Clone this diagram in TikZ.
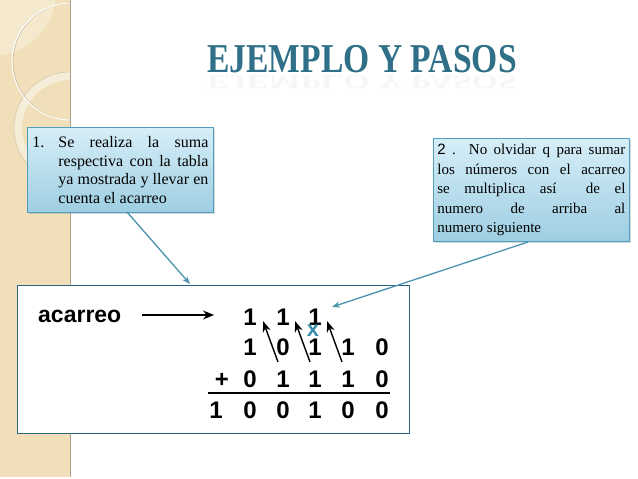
\documentclass[tikz,border=0pt]{standalone}
\usepackage{fontspec}
\setmainfont{Liberation Serif}
\setsansfont{Liberation Sans}
\usetikzlibrary{arrows.meta, positioning, shadows}
\definecolor{stripbeige}{RGB}{240, 223, 184}
\definecolor{stripedge}{RGB}{170, 160, 138}
\definecolor{titleteal}{RGB}{47, 111, 135}
\definecolor{calloutlight}{RGB}{214, 238, 248}
\definecolor{calloutdark}{RGB}{158, 206, 226}
\definecolor{calloutborder}{RGB}{79, 158, 187}
\definecolor{boxteal}{RGB}{40, 100, 125}
\definecolor{pointerteal}{RGB}{74, 147, 173}
\definecolor{crossteal}{RGB}{58, 140, 172}

\begin{document}
\begin{tikzpicture}[
    x=1pt, y=-1pt,
    callout/.style={
        draw=calloutborder, 
        thick, 
        top color=calloutlight, 
        bottom color=calloutdark, 
        anchor=north west, 
        align=justify, 
        drop shadow={opacity=0.3, shadow xshift=2pt, shadow yshift=-2pt}
    },
    digit/.style={
        font=\sffamily\bfseries\fontsize{24}{24}\selectfont, 
        inner sep=0pt, 
        anchor=base
    },
    pointer/.style={-{Stealth[length=8pt, width=6pt]}, line width=1.3pt, color=pointerteal},
    carry/.style={-{Stealth[length=11pt, width=8pt]}, line width=1.4pt, color=black}
]
    \useasboundingbox (0,0) rectangle (638,479);

    % Side strip
    \fill[stripbeige] (0,0) rectangle (70,477);
    \begin{scope}
        \clip (0,0) rectangle (70,477);
        \fill[white, opacity=0.3] (-8,-8) circle (64);
        \draw[white, opacity=0.45, line width=8pt] (70,128) circle (52);
        \draw[stripedge, opacity=0.4, line width=0.6pt] (70,128) circle (56);
        \draw[stripedge, opacity=0.6, line width=0.8pt] (71.5,61.5) circle (58.5);
        \draw[white, line width=1pt] (70.5,61.5) circle (58.5);
    \end{scope}
    \draw[stripedge, line width=1.5pt] (70.5,0) -- (70.5,477);

    % Title
    \node[anchor=base, text=titleteal, font=\bfseries\fontsize{41}{41}\selectfont] (title) at (362,72) {\scalebox{0.82}[1]{EJEMPLO Y PASOS}};
    \node[anchor=base, text=gray, text opacity=0.07, font=\bfseries\fontsize{41}{41}\selectfont] (mirror) at (362,75) {\scalebox{0.82}[-0.5]{EJEMPLO Y PASOS}};

    % Nodes
    \node[callout, font=\fontsize{16}{18.5}\selectfont, text width=176pt, inner xsep=5pt, minimum height=85pt] (callone) at (27,127)
        {\leftskip=26pt\noindent\hspace*{-26pt}\makebox[26pt][l]{1.}Se realiza la suma\linebreak respectiva con la tabla\linebreak ya mostrada y llevar en\linebreak cuenta el acarreo\par};
    \node[callout, font=\fontsize{15}{19.5}\selectfont, text width=188pt, inner xsep=4pt, minimum height=103pt] (calltwo) at (433,138)
        {{\sffamily 2} . No olvidar q para sumar\linebreak los números con el acarreo\linebreak se multiplica así\ \ de el\linebreak numero de arriba al\linebreak numero siguiente};

    \node[draw=boxteal, line width=1.2pt, fill=white, anchor=north west, minimum width=392pt, minimum height=148pt] (mainbox) at (17,285) {};

    \node[anchor=base west, inner sep=0pt, font=\sffamily\bfseries\fontsize{23}{23}\selectfont] (label) at (38,322) {acarreo};
    \coordinate (labeltail) at (142,315);
    \coordinate (labelhead) at (214,315);

    \node[digit] (t1) at (250,325) {1};
    \node[digit] (t2) at (283,325) {1};
    \node[digit] (t3) at (315,325) {1};

    \node[digit] (a1) at (250,355) {1};
    \node[digit] (a2) at (283,355) {0};
    \node[digit] (a3) at (315,355) {1};
    \node[digit] (a4) at (348,355) {1};
    \node[digit] (a5) at (382,355) {0};

    \node[digit] (plus) at (222,387) {+};
    \node[digit] (b1) at (250,387) {0};
    \node[digit] (b2) at (283,387) {1};
    \node[digit] (b3) at (315,387) {1};
    \node[digit] (b4) at (348,387) {1};
    \node[digit] (b5) at (382,387) {0};

    \coordinate (ruleleft) at (208,393);
    \coordinate (ruleright) at (390,393);

    \node[digit] (s0) at (216,418) {1};
    \node[digit] (s1) at (250,418) {0};
    \node[digit] (s2) at (283,418) {0};
    \node[digit] (s3) at (315,418) {1};
    \node[digit] (s4) at (348,418) {0};
    \node[digit] (s5) at (382,418) {0};

    \node[text=crossteal, inner sep=0pt, font=\sffamily\bfseries\fontsize{22}{22}\selectfont] (cross) at (313,331) {x};

    \coordinate (tail1) at (278,362);
    \coordinate (head1) at (263,321);
    \coordinate (tail2) at (310,362);
    \coordinate (head2) at (295,321);
    \coordinate (tail3) at (342,362);
    \coordinate (head3) at (327,321);

    \coordinate (onefoot) at (127,212);
    \coordinate (boxtip) at (190,284);
    \coordinate (twofoot) at (528,242);
    \coordinate (carrytip) at (332,307);

    % Edges
    \draw[-{Stealth[length=11pt, width=9pt]}, line width=1.2pt] (labeltail) -- (labelhead);
    \draw[line width=1.3pt] (ruleleft) -- (ruleright);
    \draw[carry] (tail1) -- (head1);
    \draw[carry] (tail2) -- (head2);
    \draw[carry] (tail3) -- (head3);
    \draw[pointer] (onefoot) -- (boxtip);
    \draw[pointer] (twofoot) -- (carrytip);

\end{tikzpicture}
\end{document}
